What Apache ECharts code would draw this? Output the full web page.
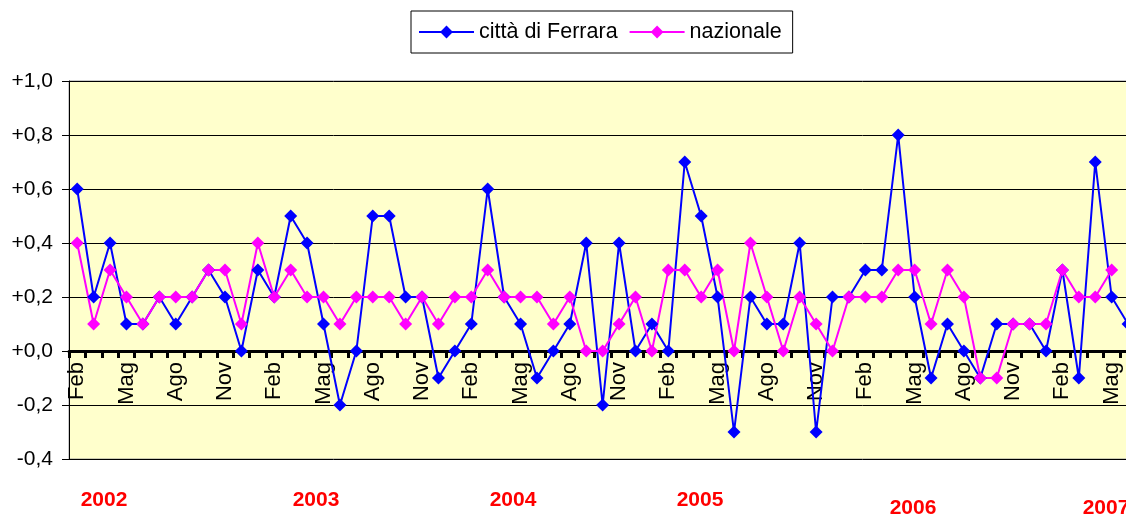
<!DOCTYPE html>
<html>
<head>
<meta charset="utf-8">
<script src="https://cdn.jsdelivr.net/npm/echarts@6/dist/echarts.min.js"></script>
<style>
html,body{margin:0;padding:0;background:#fff;}
#chart{width:1126px;height:515px;}
</style>
</head>
<body>
<div id="chart"></div>
<script>
// mesi (da Feb 2002 a Giu 2007)
var monthNames = ['Feb','Mar','Apr','Mag','Giu','Lug','Ago','Set','Ott','Nov','Dic','Gen'];
var nMonths = 65;
var categories = [];
for (var i = 0; i < nMonths; i++) {
    categories.push(monthNames[i % 12]);
}

var ferrara = [
    0.6, 0.2, 0.4, 0.1, 0.1, 0.2, 0.1, 0.2, 0.3, 0.2, 0.0, 0.3,
    0.2, 0.5, 0.4, 0.1, -0.2, 0.0, 0.5, 0.5, 0.2, 0.2, -0.1, 0.0,
    0.1, 0.6, 0.2, 0.1, -0.1, 0.0, 0.1, 0.4, -0.2, 0.4, 0.0, 0.1,
    0.0, 0.7, 0.5, 0.2, -0.3, 0.2, 0.1, 0.1, 0.4, -0.3, 0.2, 0.2,
    0.3, 0.3, 0.8, 0.2, -0.1, 0.1, 0.0, -0.1, 0.1, 0.1, 0.1, 0.0,
    0.3, -0.1, 0.7, 0.2, 0.1
];
var nazionale = [
    0.4, 0.1, 0.3, 0.2, 0.1, 0.2, 0.2, 0.2, 0.3, 0.3, 0.1, 0.4,
    0.2, 0.3, 0.2, 0.2, 0.1, 0.2, 0.2, 0.2, 0.1, 0.2, 0.1, 0.2,
    0.2, 0.3, 0.2, 0.2, 0.2, 0.1, 0.2, 0.0, 0.0, 0.1, 0.2, 0.0,
    0.3, 0.3, 0.2, 0.3, 0.0, 0.4, 0.2, 0.0, 0.2, 0.1, 0.0, 0.2,
    0.2, 0.2, 0.3, 0.3, 0.1, 0.3, 0.2, -0.1, -0.1, 0.1, 0.1, 0.1,
    0.3, 0.2, 0.2, 0.3, null
];

var yearLabels = ['2002', '2003', '2004', '2005', '2006', '2007'];
var yearPos = [[104, 500], [316, 500], [513, 500], [700, 500], [913, 508], [1106, 508]];

var yMin = -0.4, yMax = 1.0;
var gridTop = 81, gridHeight = 378;
// l'asse delle categorie sta sullo zero: spostamento dal bordo inferiore
var zeroOffset = -gridHeight * (0 - yMin) / (yMax - yMin);

var font = '"Liberation Sans", Arial, sans-serif';
var chart = echarts.init(document.getElementById('chart'));

var yearText = [];
for (var k = 0; k < yearLabels.length; k++) {
    yearText.push({
        type: 'text',
        x: yearPos[k][0],
        y: yearPos[k][1],
        style: {
            text: yearLabels[k],
            fill: '#ff0000',
            font: 'bold 21px ' + font,
            textAlign: 'center',
            textVerticalAlign: 'middle'
        }
    });
}

var option = {
    animation: false,
    backgroundColor: '#ffffff',
    legend: {
        left: 411,
        top: 11,
        padding: [10, 11, 10, 7],
        borderColor: '#000',
        borderWidth: 1,
        itemWidth: 55,
        itemHeight: 16,
        itemGap: 11,
        textStyle: {fontFamily: font, fontSize: 21.5, color: '#000'},
        data: ['città di Ferrara', 'nazionale']
    },
    grid: {
        left: 69,
        top: gridTop,
        width: 16.42 * nMonths,
        height: gridHeight,
        containLabel: false,
        outerBoundsMode: 'none',
        show: true,
        backgroundColor: '#ffffcc',
        borderColor: '#999999',
        borderWidth: 1
    },
    xAxis: {
        type: 'category',
        data: categories,
        boundaryGap: true,
        offset: zeroOffset,
        axisLine: {onZero: false, lineStyle: {color: '#000', width: 3}},
        axisTick: {show: true, interval: 0, length: 7, lineStyle: {color: '#000', width: 3}},
        axisLabel: {
            interval: 2,
            rotate: 90,
            margin: 11,
            fontFamily: font,
            fontSize: 22,
            color: '#000'
        },
        splitLine: {show: false}
    },
    yAxis: {
        type: 'value',
        min: yMin,
        max: yMax,
        interval: 0.2,
        axisLine: {show: true, lineStyle: {color: '#000', width: 1}},
        axisTick: {show: true, length: 7, lineStyle: {color: '#000'}},
        axisLabel: {
            margin: 16,
            fontFamily: font,
            fontSize: 21,
            color: '#000',
            formatter: function (v) {
                var s = Math.abs(v).toFixed(1).replace('.', ',');
                return (v < -1e-9 ? '-' : '+') + s;
            }
        },
        splitLine: {show: true, lineStyle: {color: '#000', width: 1}}
    },
    series: [
        {
            name: 'città di Ferrara',
            type: 'line',
            data: ferrara,
            symbol: 'diamond',
            symbolSize: 13,
            showAllSymbol: true,
            lineStyle: {color: '#0000ff', width: 2},
            itemStyle: {color: '#0000ff'},
            connectNulls: false
        },
        {
            name: 'nazionale',
            type: 'line',
            data: nazionale,
            symbol: 'diamond',
            symbolSize: 13,
            showAllSymbol: true,
            lineStyle: {color: '#ff00ff', width: 2},
            itemStyle: {color: '#ff00ff'},
            connectNulls: false
        }
    ],
    graphic: yearText
};
chart.setOption(option);
</script>
</body>
</html>
